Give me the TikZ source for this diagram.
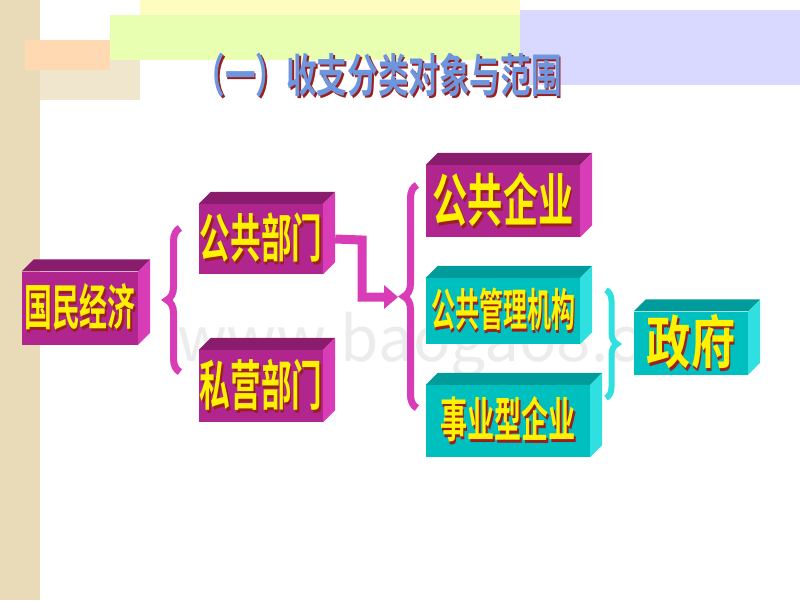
\documentclass[tikz,border=0pt]{standalone}
\usepackage{fontspec}
\usepackage{graphicx}
\setmainfont{Noto Sans CJK SC}[BoldFont={* Bold}]
\usetikzlibrary{calc,positioning,decorations.pathreplacing}

\definecolor{magfront}{HTML}{B0268E}
\definecolor{magtop}{HTML}{8A1C6E}
\definecolor{magside}{HTML}{D83CB6}
\definecolor{tealfront}{HTML}{00BFBF}
\definecolor{tealtop}{HTML}{009C9C}
\definecolor{tealside}{HTML}{30E0E0}
\definecolor{txtyellow}{HTML}{FFF200}
\definecolor{txtshadow}{HTML}{9A1F1F}
\definecolor{titleblue}{HTML}{6E96DE}
\definecolor{beige}{HTML}{EADBB8}

\newcommand\glow[2][txtyellow]{\makebox[0pt][l]{\hspace{2pt}\raisebox{-2pt}{\color{txtshadow}#2}}{\color{#1}#2}}
% front face node plus top and side faces
\newcommand\cube[3]{%
  \fill[#2] (#1.north west) -- ++(12,-12) -- ($(#1.north east)+(12,-12)$) -- (#1.north east) -- cycle;
  \fill[#3] (#1.north east) -- ++(12,-12) -- ($(#1.south east)+(12,-12)$) -- (#1.south east) -- cycle;
}

\tikzset{
  magbox/.style={fill=magfront,inner sep=0pt,font=\bfseries},
  tealbox/.style={fill=tealfront,inner sep=0pt,font=\bfseries},
  bracemag/.style={decorate,decoration={brace,amplitude=13pt},line width=7pt,draw=magside},
  braceteal/.style={decorate,decoration={brace,amplitude=11pt},line width=6pt,draw=tealside},
}

\begin{document}
\begin{tikzpicture}[x=1pt,y=-1pt]
\useasboundingbox (0,0) rectangle (800,600);
%background
\fill[white] (0,0) rectangle (800,600);
\fill[beige] (0,0) rectangle (40,600);
\fill[beige!70] (40,40) rectangle (140,100);
\fill[yellow!25] (140,0) rectangle (520,15);
\fill[green!30!yellow!30] (110,15) rectangle (520,60);
\fill[blue!15] (520,10) rectangle (800,85);
\fill[orange!30] (25,40) rectangle (110,70);
%watermark
\node[font=\fontsize{62}{62}\selectfont, text=gray!18, opacity=0.8] (wmark) at (455,345) {www.baogao8.com};
%title
\node[font=\fontsize{34}{34}\bfseries] (title) at (378,76) {\scalebox{0.9}[1.35]{\glow[titleblue]{（一）收支分类对象与范围}}};

%boxes
\node[magbox,minimum width=116,minimum height=73] (gmjj) at (80,308)
  {\fontsize{34}{34}\selectfont\scalebox{0.82}[1.45]{\glow{国民经济}}};
\node[magbox,minimum width=124,minimum height=70] (ggbm) at (261,239)
  {\fontsize{36}{36}\selectfont\scalebox{0.85}[1.45]{\glow{公共部门}}};
\node[magbox,minimum width=124,minimum height=72] (sybm) at (261,386)
  {\fontsize{36}{36}\selectfont\scalebox{0.85}[1.5]{\glow{私营部门}}};
\node[magbox,minimum width=154,minimum height=72] (ggqy) at (503,201)
  {\fontsize{44}{44}\selectfont\scalebox{0.8}[1.3]{\glow{公共企业}}};
\node[tealbox,minimum width=154,minimum height=66] (gggl) at (503,311)
  {\fontsize{30}{30}\selectfont\scalebox{0.8}[1.5]{\glow{公共管理机构}}};
\node[tealbox,minimum width=164,minimum height=72] (syxq) at (508,421)
  {\fontsize{33}{33}\selectfont\scalebox{0.82}[1.45]{\glow{事业型企业}}};
\node[tealbox,minimum width=114,minimum height=63] (zf) at (691,343)
  {\fontsize{52}{52}\selectfont\scalebox{0.85}[1.1]{\glow{政府}}};
\cube{gmjj}{magtop}{magside}
\cube{ggbm}{magtop}{magside}
\cube{sybm}{magtop}{magside}
\cube{ggqy}{magtop}{magside}
\cube{gggl}{tealtop}{tealside}
\cube{syxq}{tealtop}{tealside}
\cube{zf}{tealtop}{tealside}

%braces
\coordinate (b1top) at (180,228);
\coordinate (b1bot) at (180,372);
\draw[bracemag] (b1bot) -- (b1top);
\coordinate (b2top) at (417,185);
\coordinate (b2bot) at (417,408);
\draw[bracemag] (b2bot) -- (b2top);
\coordinate (b3top) at (606,290);
\coordinate (b3bot) at (606,398);
\draw[braceteal] (b3top) -- (b3bot);

%connector
\coordinate (bend1) at (362,240);
\coordinate (bend2) at (362,297);
\coordinate (b2tip) at (398,297);
\draw[magside,line width=9pt] ($(ggbm.east)+(12,0)$) -- (bend1) -- (bend2) -- ($(b2tip)+(-12,0)$);
\fill[magside] ($(b2tip)+(-14,-12)$) -- (b2tip) -- ($(b2tip)+(-14,12)$) -- cycle;
\end{tikzpicture}
\end{document}
